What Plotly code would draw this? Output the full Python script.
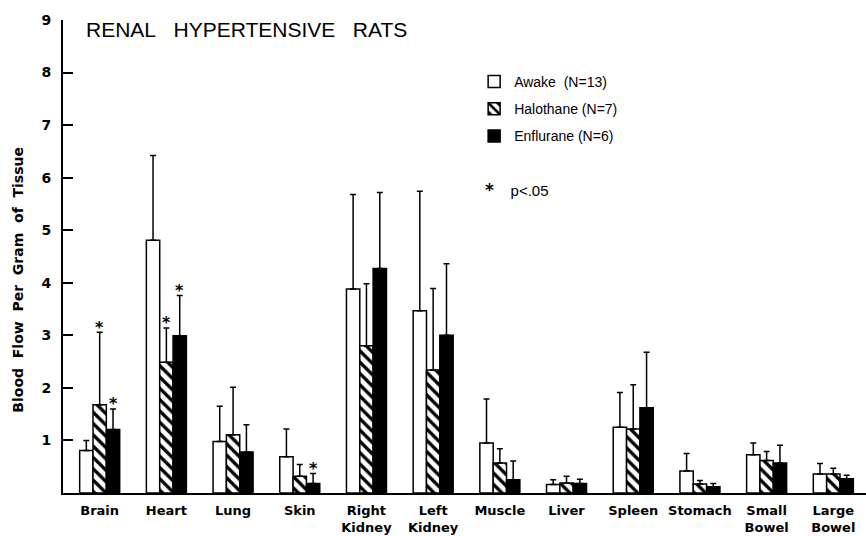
import plotly.graph_objects as go

categories = ["Brain", "Heart", "Lung", "Skin", "Right<br>Kidney", "Left<br>Kidney",
              "Muscle", "Liver", "Spleen", "Stomach", "Small<br>Bowel", "Large<br>Bowel"]

awake = [0.81, 4.81, 0.98, 0.69, 3.88, 3.47, 0.95, 0.16, 1.25, 0.42, 0.73, 0.36]
awake_sd = [0.19, 1.61, 0.67, 0.53, 1.80, 2.27, 0.84, 0.09, 0.66, 0.33, 0.22, 0.20]

halothane = [1.68, 2.49, 1.11, 0.32, 2.80, 2.34, 0.57, 0.19, 1.22, 0.17, 0.62, 0.36]
halothane_sd = [1.38, 0.65, 0.90, 0.22, 1.18, 1.55, 0.27, 0.13, 0.84, 0.07, 0.17, 0.11]

enflurane = [1.21, 2.99, 0.78, 0.18, 4.27, 3.00, 0.25, 0.18, 1.62, 0.12, 0.57, 0.27]
enflurane_sd = [0.39, 0.77, 0.52, 0.19, 1.45, 1.36, 0.36, 0.08, 1.06, 0.06, 0.34, 0.07]

halothane_sig = [0, 1]
enflurane_sig = [0, 1, 3]

series_names = ["Awake\u00a0\u00a0(N=13)", "Halothane\u00a0(N=7)", "Enflurane\u00a0(N=6)"]

x_idx = list(range(len(categories)))
BAR_W = 0.2

fig = go.Figure()

styles = [
    dict(color="white", pattern=None),
    dict(color="white", pattern=dict(shape="\\", fgcolor="black", bgcolor="white",
                                     size=8, solidity=0.42, fillmode="replace")),
    dict(color="black", pattern=None),
]
values = [awake, halothane, enflurane]
sds = [awake_sd, halothane_sd, enflurane_sd]

for k in range(3):
    marker = dict(color=styles[k]["color"], line=dict(color="black", width=1.5))
    if styles[k]["pattern"] is not None:
        marker["pattern"] = styles[k]["pattern"]
    fig.add_trace(go.Bar(
        x=x_idx, y=values[k], name=series_names[k], legendgroup=f"g{k}",
        marker=marker,
        error_y=dict(type="data", array=sds[k], arrayminus=[0] * len(sds[k]),
                     symmetric=False, color="black", thickness=1.5, width=3),
    ))

annotations = [
    dict(text="Blood\u00a0\u00a0Flow\u00a0\u00a0Per\u00a0\u00a0Gram\u00a0\u00a0of\u00a0\u00a0Tissue",
         xref="paper", yref="paper", x=(18 - 63) / 803, y=0.451,
         xanchor="center", yanchor="middle", textangle=-90, showarrow=False,
         font=dict(family="DejaVu Sans", size=14, color="black", weight="bold")),
    dict(text="<span style='font-size:17px;font-family:DejaVu Sans;font-weight:bold'>*</span>"
              "\u00a0\u00a0\u00a0\u00a0p<.05",
         xref="x", yref="y", x=5.74, y=5.77,
         xanchor="left", yanchor="middle", showarrow=False,
         font=dict(family="Liberation Sans", size=15, color="black")),
]

# significance stars above the error bars
for k, sig in [(1, halothane_sig), (2, enflurane_sig)]:
    for i in sig:
        annotations.append(dict(
            text="*", xref="x", yref="y", x=i + (k - 1) * BAR_W, y=values[k][i] + sds[k][i],
            xanchor="center", yanchor="middle", yshift=5, showarrow=False,
            font=dict(family="DejaVu Sans", size=16, color="black", weight="bold")))

fig.update_layout(
    width=866, height=536,
    margin=dict(l=63, r=0, t=20, b=43),
    paper_bgcolor="white", plot_bgcolor="white",
    barmode="group", bargap=0.4, bargroupgap=0,
    showlegend=True,
    legend=dict(x=0.512, y=0.903, xanchor="left", yanchor="top",
                font=dict(family="Liberation Sans", size=14, color="black"),
                tracegroupgap=6, bgcolor="rgba(0,0,0,0)"),
    title=dict(text="RENAL\u00a0\u00a0\u00a0HYPERTENSIVE\u00a0\u00a0\u00a0RATS",
               x=86 / 866, xanchor="left", y=1 - 30 / 536, yanchor="middle",
               font=dict(family="Liberation Sans", size=21, color="black")),
    xaxis=dict(range=[-0.55, 11.49], tickvals=x_idx, ticktext=categories,
               showline=True, linecolor="black", linewidth=2, ticks="",
               showgrid=False, zeroline=False, ticklabelstandoff=4,
               tickfont=dict(family="DejaVu Sans", size=13, color="black", weight="bold")),
    yaxis=dict(range=[0, 9], tickvals=list(range(1, 10)),
               showline=True, linecolor="black", linewidth=2,
               ticks="inside", ticklen=10, tickwidth=2, tickcolor="black",
               showgrid=False, zeroline=False, ticklabelstandoff=7,
               tickfont=dict(family="DejaVu Sans", size=14, color="black", weight="bold")),
    annotations=annotations,
)

fig.write_html("out.html", config={"displayModeBar": False},
               post_script="document.body.style.margin='0';")
